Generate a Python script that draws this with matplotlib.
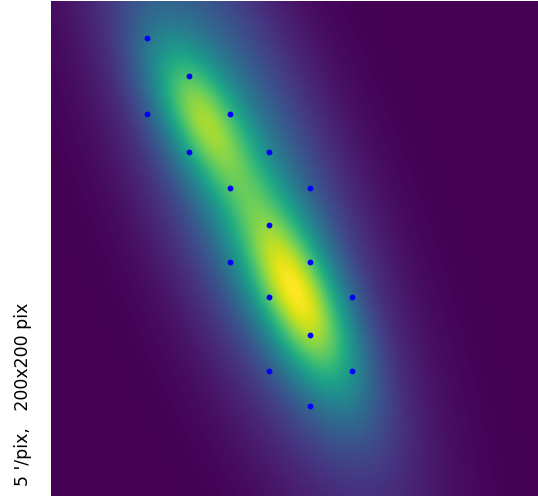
import matplotlib
matplotlib.use('Agg')
import matplotlib.pyplot as plt
import numpy as np

NPIX = 200

# gaussian components of the map (image pixel units):
# centre x, centre y, sigma along, sigma across, angle (deg), amplitude
comp_x = [80, 60.5, 101.5]
comp_y = [74, 46, 120]
comp_sa = [85, 24, 31]
comp_sb = [24, 10.5, 11.5]
comp_ang = [68, 61, 64]
comp_amp = [0.44, 0.45, 0.62]

# sample points (image pixel coords)
pts_x = [39, 56, 39, 73, 56, 89, 73, 106, 89, 73, 106, 89, 123, 106, 89, 123, 106]
pts_y = [14.5, 30, 45, 45, 60.5, 60.5, 75, 75, 90, 105, 105, 119, 119, 134.5, 149, 149, 163]


def main():
    yy, xx = np.mgrid[0:NPIX, 0:NPIX].astype(float)
    img = np.zeros((NPIX, NPIX))
    for cx, cy, sa, sb, ang, amp in zip(comp_x, comp_y, comp_sa, comp_sb, comp_ang, comp_amp):
        t = np.deg2rad(ang)
        dx, dy = xx - cx, yy - cy
        u = dx * np.cos(t) + dy * np.sin(t)
        v = -dx * np.sin(t) + dy * np.cos(t)
        img += amp * np.exp(-0.5 * (u / sa) ** 2 - 0.5 * (v / sb) ** 2)

    fig = plt.figure(figsize=(5.38, 4.98), dpi=100)
    ax = fig.add_axes([51 / 538, 2 / 498, 487 / 538, 495 / 498])
    ax.imshow(img, cmap='viridis', aspect='auto')
    ax.plot(pts_x, pts_y, 'o', color='blue', ms=4.2, mec='none')
    ax.set_xticks([])
    ax.set_yticks([])
    for s in ax.spines.values():
        s.set_visible(False)
    ax.set_ylabel("5 '/pix,   200x200 pix", loc='bottom', fontsize=12.5)
    ax.yaxis.set_label_coords(-0.039, 0.02)
    fig.savefig('out.png', dpi=100)


if __name__ == '__main__':
    main()
